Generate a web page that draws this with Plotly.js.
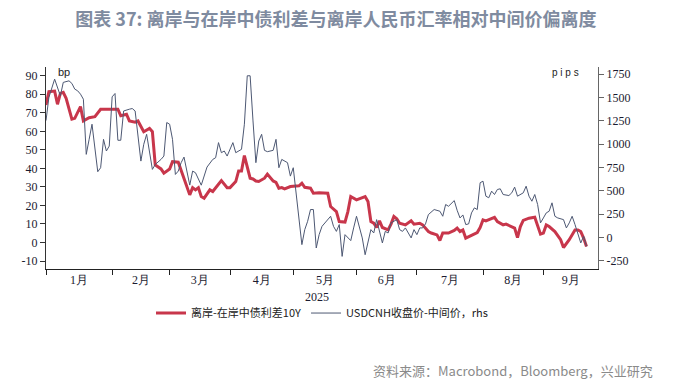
<!DOCTYPE html>
<html>
<head>
<meta charset="utf-8">
<script src="https://cdn.plot.ly/plotly-3.0.1.min.js"></script>
<style>html,body{margin:0;padding:0;background:#fff;}#chart{width:680px;height:383px;}</style>
</head>
<body>
<div id="chart"></div>
<script>
// x positions are trading-day (weekday) indices counted from 2025-01-01 = 0
const monthLabels = ['1月','2月','3月','4月','5月','6月','7月','8月','9月'];
const monthStart = [0, 23, 43, 64, 86, 108, 129, 152, 173];
const axisEnd = 192;
const yearLabel = '2025';

// 离岸-在岸中债利差10Y (bp, left axis)
const spreadIdx = [0,1,3,4,5,6,7,9,10,12,13,15,17,19,25,26,28,29,31,32,34,36,37,38,40,41,43,44,46,47,48,50,51,52,53,54,55,57,58,61,63,64,66,67,68,69,70,71,72,73,74,76,77,79,80,81,82,83,85,87,88,89,90,92,93,95,97,98,99,101,102,104,105,106,108,110,111,112,113,114,115,116,117,119,120,121,122,123,125,127,128,130,131,133,134,136,137,138,140,142,143,144,145,146,148,150,151,152,153,155,156,157,159,160,161,163,164,165,166,168,170,171,172,173,174,175,177,179,180,182,184,185,186,187,188];
const spreadBp = [74.2,81.4,81.7,74.6,80.5,81.0,77.8,66.6,67.0,73.3,65.6,67.3,67.9,71.9,71.9,68.4,69.2,65.6,64.9,65.6,59.8,61.6,59.8,41.9,39.7,37.4,39.7,43.6,43.3,38.3,34.6,25.7,29.6,28.4,29.6,24.8,23.9,28.4,27.5,33.4,29.6,29.6,32.9,38.6,38.6,46.9,40.1,34.7,34.3,33.2,32.9,34.7,36.9,33.2,32.5,29.3,29.6,28.9,30.2,30.2,30.6,32.0,29.8,29.3,26.6,26.9,26.6,26.6,19.4,16.7,11.3,11.0,16.7,24.8,23.0,24.2,24.8,22.1,11.3,10.4,8.1,11.7,8.1,6.8,9.9,14.0,12.8,10.4,9.5,11.7,9.9,10.4,9.5,5.9,5.1,4.1,1.1,5.1,5.1,6.5,7.8,5.9,6.8,2.4,4.1,5.4,8.1,12.2,11.7,12.8,13.6,11.3,9.5,9.9,9.2,7.8,2.7,8.6,11.9,13.1,13.6,9.5,4.5,5.1,9.5,8.6,5.9,1.5,-2.7,1.5,6.8,6.8,5.9,2.4,-2.2];

// USDCNH收盘价-中间价 (pips, right axis)
const devIdx = [0,1,3,4,5,6,8,9,10,11,12,13,14,15,16,18,19,20,21,22,23,24,25,26,27,29,30,31,33,34,35,37,38,40,41,42,43,44,45,46,47,48,50,51,52,54,56,58,59,60,61,62,63,65,66,68,69,70,71,72,73,74,75,76,77,79,80,81,82,84,85,86,87,88,89,90,91,92,93,94,95,96,97,98,99,100,101,102,103,104,106,107,108,110,111,113,114,115,117,118,119,120,122,123,124,125,127,128,129,130,131,132,133,135,137,138,139,140,142,143,144,145,146,147,148,149,150,151,152,153,154,155,156,157,158,159,161,162,163,164,166,167,168,169,170,171,172,173,174,175,176,177,178,180,181,182,183,184,185,186,187,188];
const devPips = [1251,1499,1695,1606,1516,1660,1677,1649,1588,1570,1534,1480,889,1050,1212,703,746,1050,925,978,1505,1541,1040,1040,1354,1373,1380,1354,817,997,1104,728,781,835,871,1230,1212,1050,674,710,800,860,560,710,692,559,753,835,853,1015,907,925,871,1015,907,943,1212,1731,1731,1247,800,1032,1104,932,918,932,1050,746,835,800,656,746,466,208,-78,83,172,298,298,-114,29,118,155,190,226,118,64,137,-204,29,-35,101,226,-6,-186,83,47,190,-60,64,47,155,190,83,64,101,-6,83,29,101,101,144,244,298,280,226,352,333,394,290,208,240,137,144,262,316,298,585,602,441,424,495,459,513,520,459,448,477,538,441,477,548,441,387,459,352,155,208,262,280,370,226,208,190,101,155,226,137,29,-60,11,-97];

const leftTicks = [-10,0,10,20,30,40,50,60,70,80,90];
const rightTicks = [-250,0,250,500,750,1000,1250,1500,1750];

const monthMid = monthStart.map((s, i) => (s + (i + 1 < monthStart.length ? monthStart[i + 1] : axisEnd)) / 2);

const tickFont = {family: 'Liberation Serif, serif', size: 12, color: '#1b1b30'};

const traces = [
  {x: spreadIdx, y: spreadBp, type: 'scatter', mode: 'lines', name: '离岸-在岸中债利差10Y',
   line: {color: '#c8364b', width: 3}, yaxis: 'y'},
  {x: devIdx, y: devPips, type: 'scatter', mode: 'lines', name: 'USDCNH收盘价-中间价，rhs',
   line: {color: '#4d5873', width: 1}, yaxis: 'y2'}
];

const layout = {
  width: 680, height: 383,
  margin: {l: 46, r: 82, t: 67, b: 114},
  paper_bgcolor: '#ffffff', plot_bgcolor: '#ffffff',
  title: {text: '图表 37: 离岸与在岸中债利差与离岸人民币汇率相对中间价偏离度',
          font: {family: 'Noto Sans CJK SC', size: 18, color: '#7f8ba0', weight: 700},
          x: 0.494, xref: 'container', xanchor: 'center', y: 0.948, yref: 'container', yanchor: 'middle'},
  xaxis: {range: [0, axisEnd], tickmode: 'array', tickvals: monthMid, ticktext: monthLabels,
          ticks: '', showline: true, linecolor: '#222', linewidth: 1, showgrid: false, zeroline: false,
          tickfont: tickFont, fixedrange: true,
          minor: {tickmode: 'array', tickvals: monthStart, ticks: 'outside', ticklen: 5, tickcolor: '#222', tickwidth: 1, showgrid: false}},
  yaxis: {range: [-14.3, 94.7], tickmode: 'array', tickvals: leftTicks, ticktext: leftTicks.map(String),
          ticks: 'outside', ticklen: 5, tickcolor: '#333', showline: true, linecolor: '#333', linewidth: 1,
          showgrid: false, zeroline: false, tickfont: tickFont},
  yaxis2: {overlaying: 'y', side: 'right', range: [-339, 1825], tickmode: 'array', tickvals: rightTicks,
           ticktext: rightTicks.map(String), ticks: 'outside', ticklen: 5, tickcolor: '#666',
           showline: true, linecolor: '#666', linewidth: 1, showgrid: false, zeroline: false, tickfont: tickFont},
  showlegend: true,
  legend: {orientation: 'h', x: 0.5, xanchor: 'center', y: -0.218, yanchor: 'middle',
           font: {family: 'Noto Sans CJK SC', size: 11, color: '#222'}, bgcolor: 'rgba(0,0,0,0)'},
  annotations: [
    {text: 'bp', xref: 'paper', yref: 'paper', x: 0.019, y: 0.955, yanchor: 'middle', yshift: 4, showarrow: false,
     font: {family: 'Liberation Sans, sans-serif', size: 11, color: '#222'}},
    {text: 'p i p s', xref: 'paper', yref: 'paper', x: 0.969, y: 0.955, yanchor: 'middle', yshift: 4, showarrow: false,
     font: {family: 'Liberation Sans, sans-serif', size: 10, color: '#222'}},
    {text: yearLabel, xref: 'paper', yref: 'paper', x: 0.491, y: -0.137, yanchor: 'middle', showarrow: false,
     font: tickFont},
    {text: '资料来源：Macrobond，Bloomberg，兴业研究', xref: 'paper', yref: 'paper', x: 1.103, xanchor: 'right',
     y: -0.5, yanchor: 'middle', showarrow: false,
     font: {family: 'Noto Sans CJK SC', size: 13, color: '#8a8a8a'}}
  ]
};

Plotly.newPlot('chart', traces, layout, {displayModeBar: false, staticPlot: true});
</script>
</body>
</html>
